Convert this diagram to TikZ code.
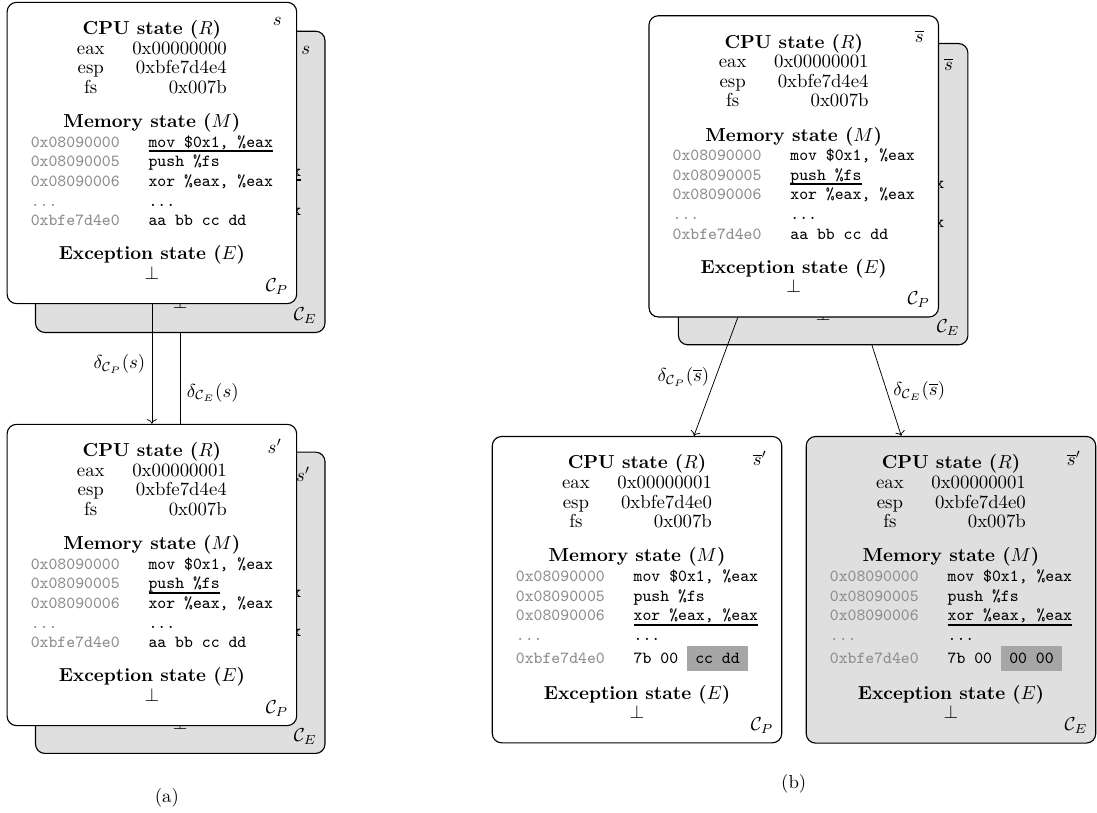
\documentclass[tikz,border=0pt]{standalone}
\usepackage{amsmath, amssymb}
\usepackage{array}
\usetikzlibrary{arrows.meta, positioning, calc}

\definecolor{addrgray}{gray}{0.55}
\definecolor{emufill}{gray}{0.875}
\definecolor{hlgray}{gray}{0.65}

\newsavebox{\insbox}
\newcommand{\curins}[1]{\sbox{\insbox}{#1}\rlap{\rule[-2.6pt]{\wd\insbox}{0.9pt}}\usebox{\insbox}}
\newcommand{\hlbytes}[1]{{\setlength{\fboxsep}{3.8pt}\colorbox{hlgray}{\hspace{0.6pt}#1\hspace{0.6pt}}}}
\newcommand{\statetab}[6]{%
  \renewcommand{\arraystretch}{0.87}%
  \begin{tabular}{@{}c@{}}
    \textbf{CPU state ($R$)}\\
    \begin{tabular}[t]{@{}c@{\hspace{14.7pt}}r@{}}
      eax & #1\\ esp & #2\\ fs & 0x007b
    \end{tabular}\\
    \noalign{\vskip 7.5pt}
    \textbf{Memory state ($M$)}\\
    \begin{tabular}[t]{@{}>{\small\ttfamily\color{addrgray}}l@{\hspace{15.4pt}}>{\small\ttfamily}l@{}}
      0x08090000 & #3\\
      0x08090005 & #4\\
      0x08090006 & #5\\
      ... & ...\\
      0xbfe7d4e0 & #6
    \end{tabular}\\
    \noalign{\vskip 7.5pt}
    \textbf{Exception state ($E$)}\\
    $\bot$
  \end{tabular}}

\begin{document}
\begin{tikzpicture}[
    statebox/.style={draw, rounded corners=5pt, fill=white, line width=0.6pt,
      minimum width=154pt, inner xsep=0pt, inner ysep=9.7pt},
    emubox/.style={statebox, fill=emufill},
    stag/.style={anchor=north east, inner sep=0pt},
    ctag/.style={anchor=base east, inner sep=0pt},
    >=To]
  \useasboundingbox (0,0) rectangle (20.51,-15.2);

  % (a) single step, both CPUs agree
  \node[emubox] (sE) at (3.37,-3.40) {\statetab{0x00000000}{0xbfe7d4e4}{\curins{mov \$0x1, \%eax}}{push \%fs}{xor \%eax, \%eax}{aa bb cc dd}};
  \node[stag] (sE-tag) at ([shift={(-8pt,-8pt)}]sE.north east) {$s$};
  \node[ctag] (sE-cpu) at ([shift={(-4.6pt,6.8pt)}]sE.south east) {$\mathcal{C}_E$};

  \node[emubox] (spE) at (3.37,-11.27) {\statetab{0x00000001}{0xbfe7d4e4}{mov \$0x1, \%eax}{\curins{push \%fs}}{xor \%eax, \%eax}{aa bb cc dd}};
  \node[stag] (spE-tag) at ([shift={(-8pt,-8pt)}]spE.north east) {$s'$};
  \node[ctag] (spE-cpu) at ([shift={(-4.6pt,6.8pt)}]spE.south east) {$\mathcal{C}_E$};

  \draw[->] (sE) -- (spE) node[midway,right] (dEa) {$\delta_{\mathcal{C}_E}(s)$};

  \node[statebox] (sP) at (2.84,-2.86) {\statetab{0x00000000}{0xbfe7d4e4}{\curins{mov \$0x1, \%eax}}{push \%fs}{xor \%eax, \%eax}{aa bb cc dd}};
  \node[stag] (sP-tag) at ([shift={(-8pt,-8pt)}]sP.north east) {$s$};
  \node[ctag] (sP-cpu) at ([shift={(-4.6pt,6.8pt)}]sP.south east) {$\mathcal{C}_P$};

  \node[statebox] (spP) at (2.84,-10.75) {\statetab{0x00000001}{0xbfe7d4e4}{mov \$0x1, \%eax}{\curins{push \%fs}}{xor \%eax, \%eax}{aa bb cc dd}};
  \node[stag] (spP-tag) at ([shift={(-8pt,-8pt)}]spP.north east) {$s'$};
  \node[ctag] (spP-cpu) at ([shift={(-4.6pt,6.8pt)}]spP.south east) {$\mathcal{C}_P$};

  \draw[->] (sP) -- (spP) node[midway,left] (dPa) {$\delta_{\mathcal{C}_P}(s)$};

  \node (capA) at (3.12,-14.92) {(a)};

  % (b) single step, CPUs disagree
  \node[emubox] (sbE) at (15.39,-3.63) {\statetab{0x00000001}{0xbfe7d4e4}{mov \$0x1, \%eax}{\curins{push \%fs}}{xor \%eax, \%eax}{aa bb cc dd}};
  \node[stag] (sbE-tag) at ([shift={(-8pt,-8pt)}]sbE.north east) {$\overline{s}$};
  \node[ctag] (sbE-cpu) at ([shift={(-4.6pt,6.8pt)}]sbE.south east) {$\mathcal{C}_E$};

  \node[statebox] (sbP) at (14.84,-3.11) {\statetab{0x00000001}{0xbfe7d4e4}{mov \$0x1, \%eax}{\curins{push \%fs}}{xor \%eax, \%eax}{aa bb cc dd}};
  \node[stag] (sbP-tag) at ([shift={(-8pt,-8pt)}]sbP.north east) {$\overline{s}$};
  \node[ctag] (sbP-cpu) at ([shift={(-4.6pt,6.8pt)}]sbP.south east) {$\mathcal{C}_P$};

  \node[statebox, anchor=north] (sbpP) at (11.91,-8.15) {\statetab{0x00000001}{0xbfe7d4e0}{mov \$0x1, \%eax}{push \%fs}{\curins{xor \%eax, \%eax}}{7b 00 \hlbytes{cc dd}}};
  \node[stag] (sbpP-tag) at ([shift={(-8pt,-8pt)}]sbpP.north east) {$\overline{s}'$};
  \node[ctag] (sbpP-cpu) at ([shift={(-4.6pt,6.8pt)}]sbpP.south east) {$\mathcal{C}_P$};

  \node[emubox, anchor=north] (sbpE) at (17.78,-8.15) {\statetab{0x00000001}{0xbfe7d4e0}{mov \$0x1, \%eax}{push \%fs}{\curins{xor \%eax, \%eax}}{7b 00 \hlbytes{00 00}}};
  \node[stag] (sbpE-tag) at ([shift={(-8pt,-8pt)}]sbpE.north east) {$\overline{s}'$};
  \node[ctag] (sbpE-cpu) at ([shift={(-4.6pt,6.8pt)}]sbpE.south east) {$\mathcal{C}_E$};

  \draw[->] (sbP) -- (sbpP) node[midway,left] (dPb) {$\delta_{\mathcal{C}_P}(\overline{s})$};
  \draw[->] (sbE) -- (sbpE) node[midway,right] (dEb) {$\delta_{\mathcal{C}_E}(\overline{s})$};

  \node (capB) at (14.84,-14.66) {(b)};
\end{tikzpicture}
\end{document}
